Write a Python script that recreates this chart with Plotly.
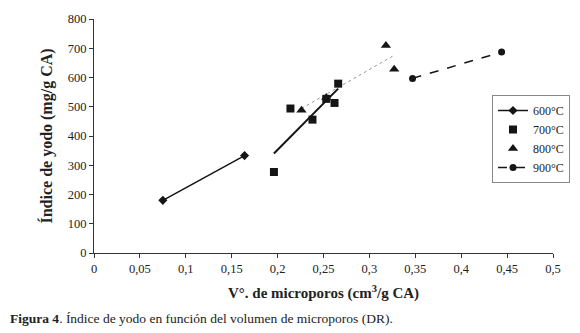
import plotly.graph_objects as go

# Data
x600 = [0.075, 0.164]
y600 = [180, 333]
x700 = [0.196, 0.214, 0.238, 0.253, 0.262, 0.266]
y700 = [277, 494, 456, 527, 513, 579]
x800 = [0.226, 0.253, 0.318, 0.327]
y800 = [488, 532, 709, 628]
x900 = [0.347, 0.444]
y900 = [597, 687]
trend700_x = [0.196, 0.266]
trend700_y = [340, 562]
trend800_x = [0.226, 0.327]
trend800_y = [494, 676]

xticks = [0, 0.05, 0.1, 0.15, 0.2, 0.25, 0.3, 0.35, 0.4, 0.45, 0.5]
xticklabels = ["0", "0,05", "0,1", "0,15", "0,2", "0,25", "0,3", "0,35", "0,4", "0,45", "0,5"]
yticks = [0, 100, 200, 300, 400, 500, 600, 700, 800]

C = "#151515"
SERIF = "Liberation Serif, Times New Roman, serif"

# the page body adds an 8px offset; figure is sized to fit the 580x333 window
W, H = 572, 325
ML, MR, MT, MB = 86, 26, 11, 80
PH = H - MT - MB

fig = go.Figure()
fig.add_trace(go.Scatter(x=trend700_x, y=trend700_y, mode="lines",
                         line=dict(color=C, width=2), showlegend=False, hoverinfo="skip"))
fig.add_trace(go.Scatter(x=trend800_x, y=trend800_y, mode="lines",
                         line=dict(color="#999999", width=1, dash="dot"), showlegend=False, hoverinfo="skip"))
fig.add_trace(go.Scatter(x=x600, y=y600, mode="lines+markers", name="600°C",
                         line=dict(color=C, width=1.5),
                         marker=dict(symbol="diamond", size=7, color=C)))
fig.add_trace(go.Scatter(x=x700, y=y700, mode="markers", name="700°C",
                         marker=dict(symbol="square", size=8, color=C)))
fig.add_trace(go.Scatter(x=x800, y=y800, mode="markers", name="800°C",
                         marker=dict(symbol="triangle-up", size=9, color=C)))
fig.add_trace(go.Scatter(x=x900, y=y900, mode="lines+markers", name="900°C",
                         line=dict(color=C, width=1.5, dash="dash"),
                         marker=dict(symbol="circle", size=7, color=C)))

fig.update_layout(
    width=W, height=H,
    margin=dict(l=ML, r=MR, t=MT, b=MB),
    paper_bgcolor="white", plot_bgcolor="white",
    font=dict(family=SERIF, size=12.5, color="#222"),
    showlegend=True,
    legend=dict(x=(492 - 94) / 460, y=(253 - 95) / 234, xanchor="left", yanchor="top",
                bordercolor="#888", borderwidth=1, bgcolor="white",
                font=dict(family=SERIF, size=12, color="#222"),
                tracegroupgap=0, itemwidth=30),
    xaxis=dict(range=[0, 0.5], tickvals=xticks, ticktext=xticklabels, automargin=False,
               showgrid=False, zeroline=False, showline=True, linecolor="#333", linewidth=1,
               ticks="outside", ticklen=4, tickcolor="#333",
               title=dict(text="<b>V°. de microporos (cm<sup>3</sup>/g CA)</b>",
                          font=dict(family=SERIF, size=15, color="#222"), standoff=12)),
    yaxis=dict(range=[0, 800], tickvals=yticks, automargin=False,
               showgrid=False, zeroline=False, showline=True, linecolor="#333", linewidth=1,
               ticks="outside", ticklen=4, tickcolor="#333",
               title=dict(text="<b>Índice de yodo (mg/g CA)</b>",
                          font=dict(family=SERIF, size=16, color="#222"), standoff=11)),
    annotations=[dict(text="<b>Figura 4</b>. Índice de yodo en función del volumen de microporos (DR).",
                      xref="paper", yref="paper", x=-ML / 460, y=(MT + PH - 310) / PH,
                      xanchor="left", yanchor="middle", showarrow=False,
                      font=dict(family=SERIF, size=13.5, color="#222"))],
)

fig.write_html("out.html")
